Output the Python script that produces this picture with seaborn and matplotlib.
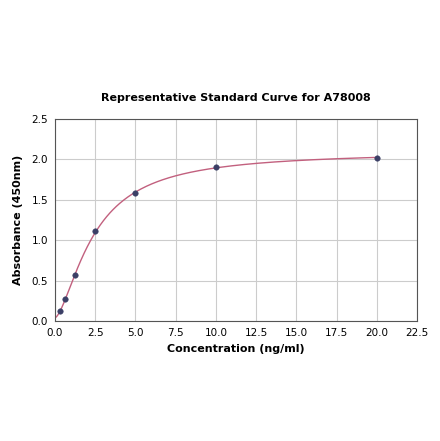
import numpy as np
import pandas as pd
import matplotlib
matplotlib.use("Agg")
import matplotlib.pyplot as plt
import seaborn as sns

# standard points
conc = [0.3125, 0.625, 1.25, 2.5, 5.0, 10.0, 20.0]
absorb = [0.12, 0.27, 0.57, 1.11, 1.58, 1.91, 2.02]

x_ticks = [0.0, 2.5, 5.0, 7.5, 10.0, 12.5, 15.0, 17.5, 20.0, 22.5]
y_ticks = [0.0, 0.5, 1.0, 1.5, 2.0, 2.5]


def four_pl(x, p):
    a, b, c, d = p
    return d + (a - d) / (1.0 + (np.maximum(x, 1e-9) / c) ** b)


# fit a 4PL curve through the points (small Levenberg-Marquardt)
xs = np.array(conc)
ys = np.array(absorb)
p = np.array([0.0, 1.5, 3.0, 2.1])
lam = 1e-2
for _ in range(500):
    r = ys - four_pl(xs, p)
    J = np.zeros((len(xs), 4))
    for k in range(4):
        dp = np.zeros(4)
        dp[k] = 1e-6 * max(abs(p[k]), 1.0)
        J[:, k] = (four_pl(xs, p + dp) - four_pl(xs, p)) / dp[k]
    A = J.T @ J
    step = np.linalg.solve(A + lam * np.diag(np.diag(A) + 1e-12), J.T @ r)
    new = p + step
    if np.sum((ys - four_pl(xs, new)) ** 2) < np.sum(r ** 2):
        p = new
        lam *= 0.5
    else:
        lam *= 4

curve_x = np.linspace(0, max(conc), 300)
curve = pd.DataFrame({"x": curve_x, "y": four_pl(curve_x, p)})
pts = pd.DataFrame({"x": conc, "y": absorb})

sns.set_style("whitegrid")
plt.rcParams["text.color"] = "black"
plt.rcParams["axes.labelcolor"] = "black"
plt.rcParams["xtick.color"] = "black"
plt.rcParams["ytick.color"] = "black"

fig = plt.figure(figsize=(4.4, 4.41), dpi=100)
ax = fig.add_axes([0.125, 0.272, 0.823, 0.458])

sns.lineplot(data=curve, x="x", y="y", ax=ax, color="#c2607e", linewidth=1.0)
sns.scatterplot(data=pts, x="x", y="y", ax=ax, color="#3b3f66", s=16,
                edgecolor="#3b3f66", zorder=3)

ax.set_xlim(0, 22.5)
ax.set_ylim(0, 2.5)
ax.set_xticks(x_ticks)
ax.set_yticks(y_ticks)
ax.set_xticklabels([f"{v:.1f}" for v in x_ticks], fontsize=7.5)
ax.set_yticklabels([f"{v:.1f}" for v in y_ticks], fontsize=7.5)
ax.tick_params(axis="both", length=3, width=0.8, color="#333333", pad=2)
ax.grid(True, color="#cccccc", linewidth=0.8)
for s in ax.spines.values():
    s.set_color("#555555")
    s.set_linewidth(0.8)

ax.set_xlabel("Concentration (ng/ml)", fontsize=8, fontweight="bold", labelpad=4)
ax.set_ylabel("Absorbance (450nm)", fontsize=8, fontweight="bold", labelpad=6)
ax.set_title("Representative Standard Curve for A78008", fontsize=8,
             fontweight="bold", pad=13)

fig.savefig("out.png", dpi=100)
